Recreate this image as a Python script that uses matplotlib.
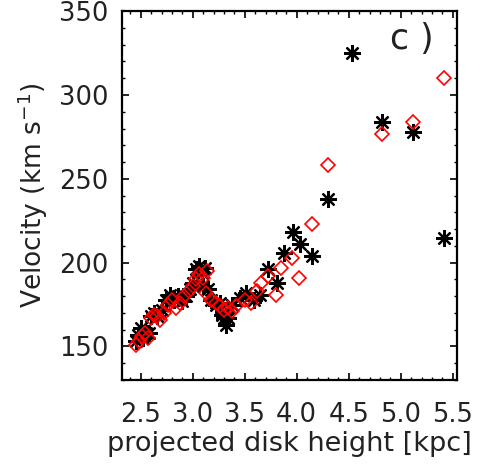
import numpy as np
import matplotlib
matplotlib.use('Agg')
import matplotlib.pyplot as plt
from matplotlib.ticker import MultipleLocator

# black asterisks
star_x = [2.45, 2.47, 2.50, 2.52, 2.55, 2.58, 2.60, 2.63, 2.66, 2.70, 2.74, 2.78,
          2.82, 2.86, 2.90, 2.94, 2.97, 3.00, 3.03, 3.06, 3.09, 3.12, 3.10, 3.15,
          3.18, 3.22, 3.26, 3.28, 3.30, 3.32, 3.34, 3.38, 3.45, 3.51, 3.59, 3.65,
          3.72, 3.81, 3.88, 3.96, 4.03, 4.15, 4.30, 4.53, 4.82, 5.12, 5.42]
star_y = [153, 157, 161, 155, 158, 158, 168, 170, 168, 172, 178, 181,
          178, 180, 177, 180, 184, 188, 196, 198, 194, 197, 186, 184,
          178, 175, 176, 169, 167, 163, 167, 175, 179, 182, 178, 181,
          196, 188, 206, 218, 211, 204, 238, 325, 284, 278, 215]

# red diamonds
diam_x = [2.45, 2.48, 2.51, 2.54, 2.57, 2.60, 2.63, 2.66, 2.69, 2.72, 2.76, 2.80,
          2.84, 2.88, 2.92, 2.96, 3.00, 3.03, 3.06, 3.10, 3.14, 3.13, 3.18, 3.22,
          3.26, 3.30, 3.34, 3.38, 3.42, 3.50, 3.56, 3.62, 3.66, 3.72, 3.80, 3.85,
          3.95, 4.02, 4.15, 4.30, 4.82, 5.12, 5.42]
diam_y = [151, 153, 156, 158, 155, 167, 169, 168, 166, 170, 175, 178,
          173, 176, 180, 183, 186, 190, 193, 191, 195, 182, 178, 176,
          174, 172, 173, 171, 174, 178, 176, 183, 188, 192, 181, 197,
          203, 191, 223, 258, 277, 284, 310]

fig = plt.figure(figsize=(4.81, 4.66), dpi=100)
ax = fig.add_axes([0.2536, 0.1845, 0.6964, 0.7915])

ax.plot(star_x, star_y, linestyle='none', marker=(8, 2, 0), markersize=12,
        markeredgecolor='black', markeredgewidth=1.6, color='black')
ax.plot(diam_x, diam_y, linestyle='none', marker='D', markersize=7,
        markerfacecolor='none', markeredgecolor='red', markeredgewidth=1.2)

ax.set_xlim(2.32, 5.54)
ax.set_ylim(130, 350)
ax.xaxis.set_minor_locator(MultipleLocator(0.1))
ax.yaxis.set_minor_locator(MultipleLocator(10))
ax.set_xticks([2.5, 3.0, 3.5, 4.0, 4.5, 5.0, 5.5])
ax.set_xticklabels(['2.5', '3.0', '3.5', '4.0', '4.5', '5.0', '5.5'])
ax.set_yticks([150, 200, 250, 300, 350])

ax.tick_params(which='both', direction='in', top=True, right=True,
               labelsize=18.5, colors='black', labelcolor='#222222')
ax.tick_params(axis='x', which='major', pad=16)
ax.tick_params(axis='y', which='major', pad=10)
ax.tick_params(which='major', length=5, width=1.2)
ax.tick_params(which='minor', length=2.5, width=1.0)
for s in ax.spines.values():
    s.set_linewidth(1.6)

ax.set_xlabel('projected disk height [kpc]', fontsize=19.5, color='#222222', labelpad=2)
ax.set_ylabel('Velocity (km s$^{-1}$)', fontsize=19, color='#222222', labelpad=6)
ax.text(0.865, 0.925, 'c )', transform=ax.transAxes, fontsize=25,
        ha='center', va='center', color='#222222')

plt.savefig('out.png', dpi=100)
